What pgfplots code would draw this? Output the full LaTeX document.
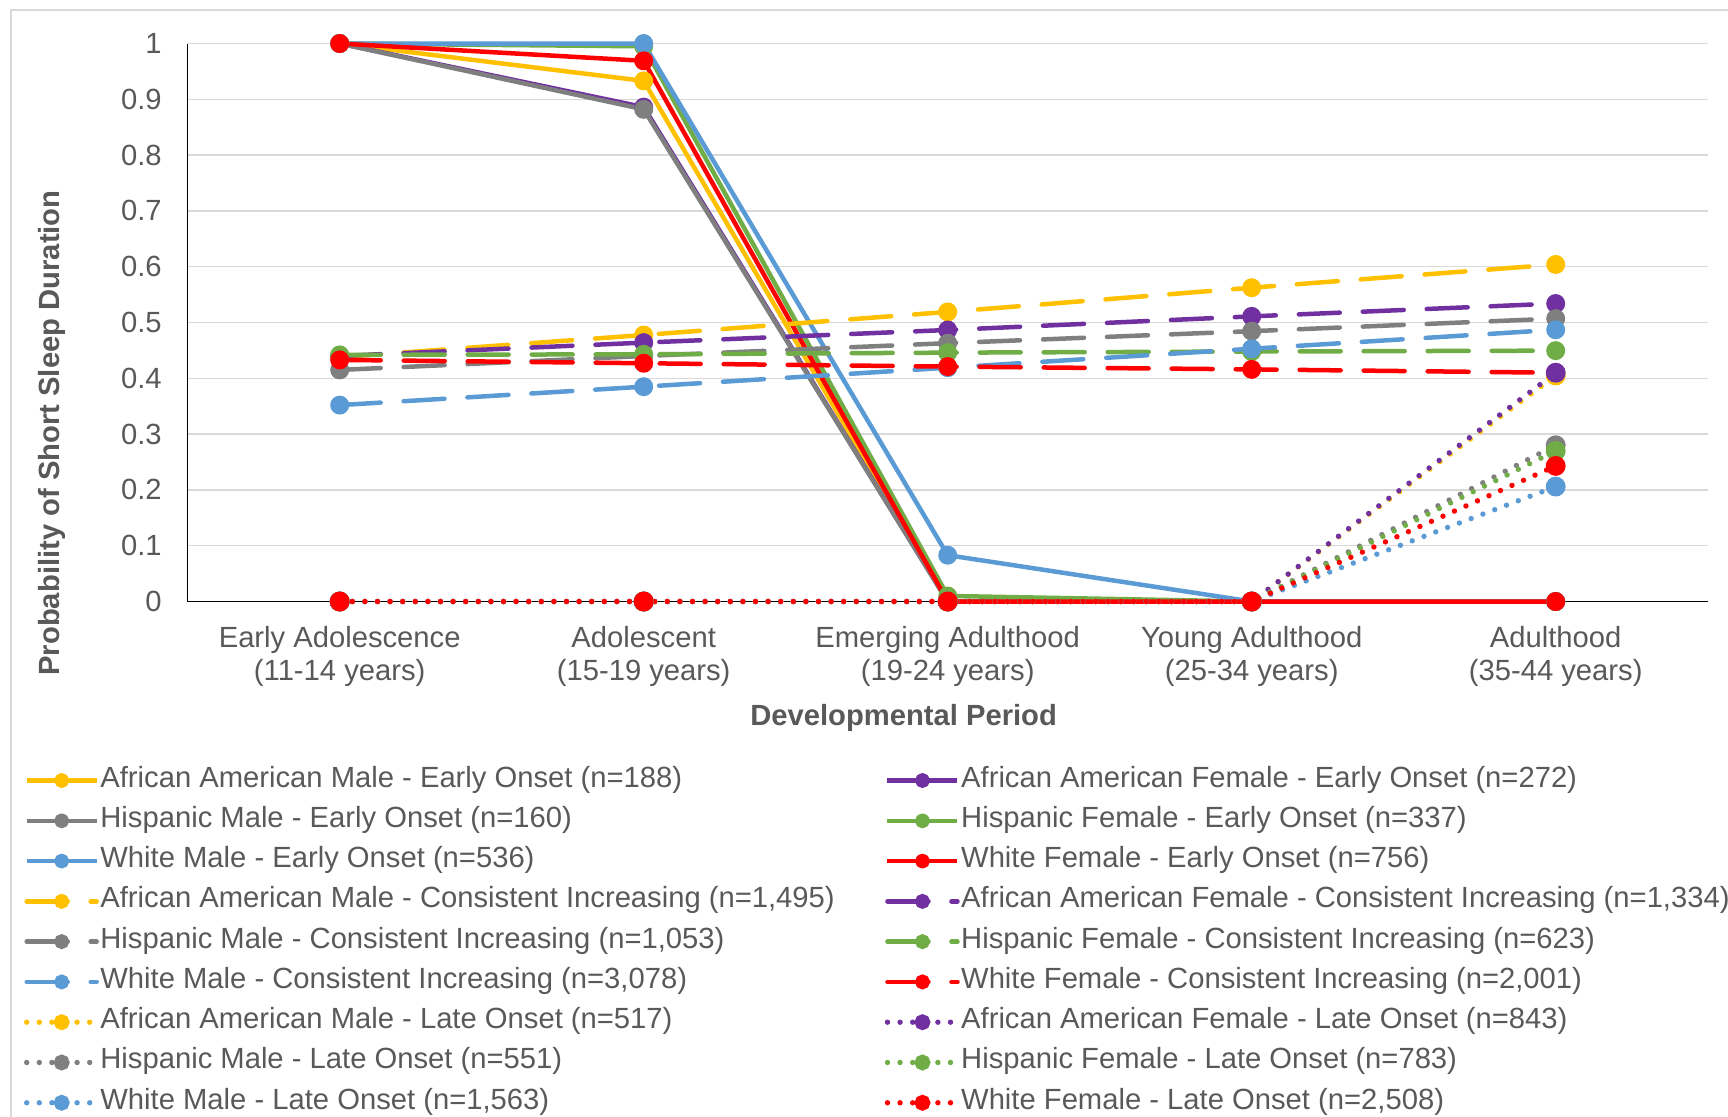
\documentclass[border=0pt]{standalone}
\usepackage{fontspec}
\setmainfont{Liberation Sans}
\usepackage{pgfplots}
\pgfplotsset{compat=1.18}
\definecolor{yel}{HTML}{FFC000}
\definecolor{pur}{HTML}{7030A0}
\definecolor{gry}{HTML}{7F7F7F}
\definecolor{grn}{HTML}{70AD47}
\definecolor{blu}{HTML}{5B9BD5}
\definecolor{rd}{HTML}{FF0000}
\definecolor{txt}{HTML}{595959}
\definecolor{gridc}{HTML}{D9D9D9}
\pgfplotsset{
  early/.style={line width=2.25pt, line join=round, mark=*, mark size=3.6pt, mark options={solid}},
  cons/.style={line width=2.25pt, line cap=round, dash pattern=on 20.5pt off 11.5pt, mark=*, mark size=3.6pt, mark options={solid}},
  late/.style={line width=2.7pt, line cap=round, dash pattern=on 0pt off 6.3pt, mark=*, mark size=3.6pt, mark options={solid}},
}
\begin{document}
\begin{tikzpicture}
\path[use as bounding box] (-93.85pt,-257.25pt) rectangle (770.15pt,300.75pt);
\draw[color=gridc, line width=1pt] (-88.35pt,-300pt) rectangle (800pt,295.75pt);
\begin{axis}[
  at={(0pt,0pt)}, anchor=south west,
  width=760pt, height=279pt, scale only axis,
  xmin=-0.5, xmax=4.5, ymin=0, ymax=1,
  clip=false,
  xtick={0,1,2,3,4},
  xticklabels={{Early Adolescence\\(11-14 years)},{Adolescent\\(15-19 years)},{Emerging Adulthood\\(19-24 years)},{Young Adulthood\\(25-34 years)},{Adulthood\\(35-44 years)}},
  ytick={0,0.1,0.2,0.3,0.4,0.5,0.6,0.7,0.8,0.9,1},
  yticklabels={0,0.1,0.2,0.3,0.4,0.5,0.6,0.7,0.8,0.9,1},
  xticklabel style={align=center, text=txt, font=\fontsize{14.6}{16.5}\selectfont, inner sep=0pt, anchor=north, yshift=-12.2pt},
  yticklabel style={text=txt, font=\fontsize{14.6}{16.5}\selectfont, inner sep=0pt, anchor=east, xshift=-12.8pt},
  major tick length=0pt,
  ymajorgrids, grid style={color=gridc, line width=0.75pt},
  axis x line*=bottom, axis y line*=left,
  axis line style={black, line width=0.75pt},
  xlabel={Developmental Period},
  ylabel={Probability of Short Sleep Duration},
  xlabel style={at={(axis description cs:0.471,-0.2093)}, anchor=center, font=\fontsize{14.6}{16.5}\selectfont\bfseries, text=txt},
  ylabel style={at={(axis description cs:-0.0893,0.302)}, anchor=center, font=\fontsize{14.6}{16.5}\selectfont\bfseries, text=txt},
  legend columns=2,
  legend cell align=left,
  legend image code/.code={\draw[mark repeat=2,mark phase=2,#1,mark size=2.6pt] plot coordinates {(0pt,0pt)(17.5pt,0pt)(35pt,0pt)};},
  legend style={at={(axis description cs:-0.1077,-0.2966)}, anchor=north west, draw=none, fill=none, inner sep=0pt, outer sep=0pt,
    font=\fontsize{14.6}{16}\selectfont, text=txt, row sep=6.64pt,
    nodes={inner sep=0pt, text height=10pt, text depth=3.5pt},
    /tikz/every odd column/.append style={column sep=0.5pt},
    /tikz/every even column/.append style={column sep=25pt}},
]
% Early onset
\addplot[early, color=yel] coordinates {(0,1) (1,0.933) (2,0) (3,0) (4,0)};
\addlegendentry{African American Male - Early Onset (n=188)}
\addplot[early, color=pur] coordinates {(0,1) (1,0.886) (2,0) (3,0) (4,0)};
\addlegendentry{African American Female - Early Onset (n=272)}
\addplot[early, color=gry] coordinates {(0,1) (1,0.882) (2,0) (3,0) (4,0)};
\addlegendentry{Hispanic Male - Early Onset (n=160)}
\addplot[early, color=grn] coordinates {(0,1) (1,0.995) (2,0.01) (3,0) (4,0)};
\addlegendentry{Hispanic Female - Early Onset (n=337)}
\addplot[early, color=blu] coordinates {(0,1) (1,1) (2,0.083) (3,0) (4,0)};
\addlegendentry{White Male - Early Onset (n=536)}
\addplot[early, color=rd] coordinates {(0,1) (1,0.969) (2,0) (3,0) (4,0)};
\addlegendentry{White Female - Early Onset (n=756)}
% Consistent increasing
\addplot[cons, color=yel] coordinates {(0,0.438) (1,0.4776) (2,0.519) (3,0.5624) (4,0.604)};
\addlegendentry{African American Male - Consistent Increasing (n=1,495)}
\addplot[cons, color=pur] coordinates {(0,0.440) (1,0.464) (2,0.4866) (3,0.511) (4,0.534)};
\addlegendentry{African American Female - Consistent Increasing (n=1,334)}
\addplot[cons, color=gry] coordinates {(0,0.415) (1,0.440) (2,0.463) (3,0.4845) (4,0.507)};
\addlegendentry{Hispanic Male - Consistent Increasing (n=1,053)}
\addplot[cons, color=grn] coordinates {(0,0.442) (1,0.443) (2,0.446) (3,0.448) (4,0.4496)};
\addlegendentry{Hispanic Female - Consistent Increasing (n=623)}
\addplot[cons, color=blu] coordinates {(0,0.352) (1,0.385) (2,0.419) (3,0.453) (4,0.487)};
\addlegendentry{White Male - Consistent Increasing (n=3,078)}
\addplot[cons, color=rd] coordinates {(0,0.433) (1,0.427) (2,0.421) (3,0.416) (4,0.410)};
\addlegendentry{White Female - Consistent Increasing (n=2,001)}
% Late onset
\addplot[late, color=yel] coordinates {(0,0) (1,0) (2,0) (3,0) (4,0.405)};
\addlegendentry{African American Male - Late Onset (n=517)}
\addplot[late, color=pur] coordinates {(0,0) (1,0) (2,0) (3,0) (4,0.410)};
\addlegendentry{African American Female - Late Onset (n=843)}
\addplot[late, color=gry] coordinates {(0,0) (1,0) (2,0) (3,0) (4,0.280)};
\addlegendentry{Hispanic Male - Late Onset (n=551)}
\addplot[late, color=grn] coordinates {(0,0) (1,0) (2,0) (3,0) (4,0.270)};
\addlegendentry{Hispanic Female - Late Onset (n=783)}
\addplot[late, color=blu] coordinates {(0,0) (1,0) (2,0) (3,0) (4,0.206)};
\addlegendentry{White Male - Late Onset (n=1,563)}
\addplot[late, color=rd] coordinates {(0,0) (1,0) (2,0) (3,0) (4,0.243)};
\addlegendentry{White Female - Late Onset (n=2,508)}
\end{axis}
\end{tikzpicture}
\end{document}
